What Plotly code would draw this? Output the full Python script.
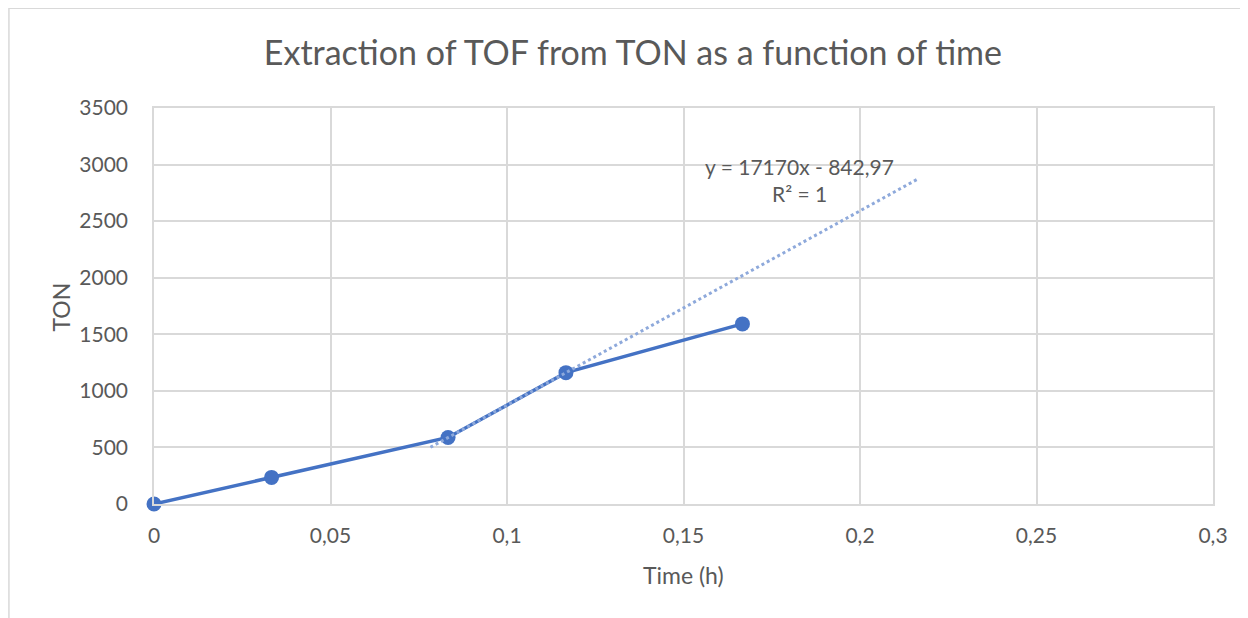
import plotly.graph_objects as go

time_h = [0, 0.0333, 0.0833, 0.1167, 0.1667]
ton = [0, 235, 588, 1161, 1592]

trend_slope = 17170
trend_intercept = -842.97
trend_x = [0.0783, 0.2167]
trend_y = [trend_slope * x + trend_intercept for x in trend_x]

x_ticks = [0, 0.05, 0.1, 0.15, 0.2, 0.25, 0.3]
x_labels = ["0", "0,05", "0,1", "0,15", "0,2", "0,25", "0,3"]
y_ticks = [0, 500, 1000, 1500, 2000, 2500, 3000, 3500]

FONT = "Lato, 'Open Sans', sans-serif"
TXT = "#595959"
GRID = "#d9d9d9"

fig = go.Figure()
fig.add_trace(go.Scatter(x=time_h, y=ton, mode="lines+markers",
                         line=dict(color="#4472C4", width=3.5),
                         marker=dict(color="#4472C4", size=15),
                         showlegend=False, cliponaxis=False))
fig.add_trace(go.Scatter(x=trend_x, y=trend_y, mode="lines",
                         line=dict(color="#8EA9DB", width=3, dash="dot"),
                         showlegend=False))

fig.add_annotation(x=0.183, y=2987, text="y = 17170x - 842,97", showarrow=False,
                   font=dict(family=FONT, size=21, color=TXT))
fig.add_annotation(x=0.183, y=2740, text="R² = 1", showarrow=False,
                   font=dict(family=FONT, size=21, color=TXT))

# axis titles
fig.add_annotation(xref="paper", yref="paper", x=0.5, y=-0.179, text="Time (h)",
                   showarrow=False, xanchor="center", yanchor="middle",
                   font=dict(family=FONT, size=23, color=TXT))
fig.add_annotation(xref="paper", yref="paper", x=-0.088, y=0.498, text="TON",
                   showarrow=False, xanchor="center", yanchor="middle", textangle=-90,
                   font=dict(family=FONT, size=23, color=TXT))

fig.add_shape(type="rect", xref="paper", yref="paper", x0=-0.137, x1=1.2, y0=-0.4, y1=1.252,
              line=dict(color="#d9d9d9", width=1.5), fillcolor="rgba(0,0,0,0)", layer="below")

fig.update_layout(
    width=1240, height=610,
    margin=dict(l=146, r=35, t=100, b=114),
    paper_bgcolor="white", plot_bgcolor="white",
    title=dict(text="Extraction of TOF from TON as a function of time",
               x=0.504, xanchor="center", y=0.926, yanchor="middle",
               font=dict(family=FONT, size=34, color=TXT)),
    font=dict(family=FONT, color=TXT, size=21),
    xaxis=dict(range=[0, 0.3], tickvals=x_ticks, ticktext=x_labels,
               showgrid=True, gridcolor=GRID, gridwidth=1.5, zeroline=False,
               showline=True, linecolor=GRID, linewidth=1.5, mirror=True,
               ticks="", ticklen=0, tickfont=dict(size=21, color=TXT), ticklabelstandoff=12),
    yaxis=dict(range=[0, 3500], tickvals=y_ticks,
               showgrid=True, gridcolor=GRID, gridwidth=1.5, zeroline=False,
               showline=True, linecolor=GRID, linewidth=1.5, mirror=True,
               ticks="", tickfont=dict(size=21, color=TXT), ticklabelstandoff=20),
)

fig.write_html("out.html")
